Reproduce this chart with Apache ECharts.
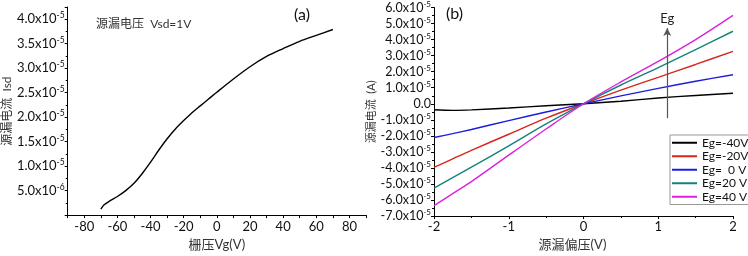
<!DOCTYPE html>
<html>
<head>
<meta charset="utf-8">
<script src="https://cdn.jsdelivr.net/npm/echarts@6/dist/echarts.min.js"></script>
<style>
  html, body { margin: 0; padding: 0; background: #fff; }
  #main { width: 748px; height: 256px; }
</style>
</head>
<body>
<div id="main"></div>
<script>
// panel (a): transfer curve, current in units of 1e-5 A
var vgA = [-70, -68, -65, -60, -55, -50, -45, -40, -35, -30, -25, -20, -15, -10, -5, 0, 10, 20, 30, 40, 50, 60, 70];
var isdA = [0.124, 0.21, 0.28, 0.38, 0.5, 0.65, 0.85, 1.08, 1.33, 1.56, 1.76, 1.93, 2.09, 2.23, 2.37, 2.51, 2.78, 3.03, 3.24, 3.40, 3.55, 3.67, 3.79];

// panel (b): output curves, current in units of 1e-5 A
var vsdB = [-2, -1.75, -1.5, -1, -0.5, 0, 0.5, 1, 1.5, 2];
var egNames = ['Eg=-40V', 'Eg=-20V', 'Eg=  0 V', 'Eg=20 V', 'Eg=40 V'];
var egColors = ['#000000', '#d8261c', '#1c1cdc', '#15827c', '#dc20dc'];
var egM40 = [-0.37, -0.41, -0.38, -0.26, -0.12, 0, 0.16, 0.36, 0.52, 0.66];
var egM20 = [-3.97, -3.43, -2.90, -1.90, -0.90, 0, 0.85, 1.65, 2.45, 3.27];
var eg0   = [-2.10, -1.86, -1.60, -1.05, -0.51, 0, 0.49, 0.96, 1.40, 1.81];
var eg20  = [-5.25, -4.60, -3.95, -2.62, -1.25, 0, 1.17, 2.25, 3.38, 4.52];
var eg40  = [-6.35, -5.60, -4.85, -3.20, -1.57, 0, 1.36, 2.64, 4.00, 5.51];
var egCurves = [egM40, egM20, eg0, eg20, eg40];

// Eg arrow (annotation)
var arrowX = 1.12, arrowFrom = -0.9, arrowTo = 4.72;

var font = 'Lato, "Noto Sans CJK SC", sans-serif';

function pairs(xs, ys) {
    return xs.map(function (x, i) { return [x, ys[i]]; });
}

var supRich = {
    m: { fontSize: 13, fontFamily: font, color: '#111' },
    s: { fontSize: 8.5, fontFamily: font, color: '#111', padding: [0, 0, 7, 0] }
};
var supRichB = {
    m: { fontSize: 12.5, fontFamily: font, color: '#111' },
    s: { fontSize: 8, fontFamily: font, color: '#111', padding: [0, 0, 7, 0] }
};

var chart = echarts.init(document.getElementById('main'), null, { renderer: 'canvas' });

var axisLine = { show: true, onZero: false, lineStyle: { color: '#000', width: 1 } };

var seriesB = egCurves.map(function (c, i) {
    return {
        name: egNames[i],
        type: 'line',
        xAxisIndex: 1,
        yAxisIndex: 1,
        data: pairs(vsdB, c),
        smooth: 0.3,
        symbol: 'none',
        lineStyle: { color: egColors[i], width: 1.4 },
        itemStyle: { color: egColors[i] },
        z: 3
    };
});

seriesB[4].markLine = {
    silent: true,
    symbol: ['none', 'arrow'],
    symbolSize: [6, 8],
    lineStyle: { color: '#555', width: 1.2, type: 'solid' },
    label: { show: true, position: 'end', formatter: 'Eg', color: '#222', fontSize: 13, fontFamily: font, distance: 3 },
    data: [[{ coord: [arrowX, arrowFrom] }, { coord: [arrowX, arrowTo] }]]
};

var option = {
    animation: false,
    backgroundColor: '#fff',
    grid: [
        { left: 64, top: 7, width: 302, height: 219 },
        { left: 434, top: 7, width: 299, height: 219 }
    ],
    xAxis: [
        {
            gridIndex: 0, type: 'value', min: -90, max: 90, interval: 10,
            axisLine: axisLine,
            axisTick: { show: true, length: 3 },
            splitLine: { show: false },
            axisLabel: {
                margin: 5, color: '#111', fontSize: 13, fontFamily: font,
                formatter: function (v) { return (v % 20 === 0) ? String(v) : ''; }
            },
            name: '栅压Vg(V)', nameLocation: 'middle', nameGap: 18,
            nameTextStyle: { color: '#333', fontSize: 13, fontFamily: font }
        },
        {
            gridIndex: 1, type: 'value', min: -2, max: 2, interval: 1,
            axisLine: axisLine,
            axisTick: { show: true, length: 3 },
            minorTick: { show: true, splitNumber: 2, length: 2 },
            splitLine: { show: false },
            axisLabel: { margin: 4, color: '#111', fontSize: 13, fontFamily: font },
            name: '源漏偏压(V)', nameLocation: 'middle', nameGap: 16,
            nameTextStyle: { color: '#333', fontSize: 13, fontFamily: font, padding: [0, 22, 0, 0] }
        }
    ],
    yAxis: [
        {
            gridIndex: 0, type: 'value', min: 0, max: 4.25, interval: 0.5,
            axisLine: axisLine,
            axisTick: { show: true, length: 3 },
            minorTick: { show: true, splitNumber: 2, length: 2 },
            splitLine: { show: false },
            axisLabel: {
                margin: 3, rich: supRich,
                formatter: function (v) {
                    if (v < 0.01 || v > 4.01) return '';
                    if (Math.abs(v - 0.5) < 1e-6) return '{m|5.0x10}{s|-6}';
                    return '{m|' + v.toFixed(1) + 'x10}{s|-5}';
                }
            },
            name: '源漏电流  Isd', nameLocation: 'middle', nameGap: 51,
            nameTextStyle: { color: '#333', fontSize: 12, fontFamily: font }
        },
        {
            gridIndex: 1, type: 'value', min: -7, max: 6, interval: 1,
            axisLine: axisLine,
            axisTick: { show: true, length: 3 },
            minorTick: { show: true, splitNumber: 2, length: 2 },
            splitLine: { show: false },
            axisLabel: {
                margin: 3, rich: supRichB,
                formatter: function (v) {
                    if (Math.abs(v) < 1e-6) return '{m|0.0}';
                    return '{m|' + v.toFixed(1) + 'x10}{s|-5}';
                }
            },
            name: '源漏电流  (A)', nameLocation: 'middle', nameGap: 50,
            nameTextStyle: { color: '#333', fontSize: 11, fontFamily: font }
        }
    ],
    legend: {
        show: true,
        data: egNames,
        orient: 'vertical',
        left: 670, top: 135,
        padding: [1, 2, 1, 2],
        icon: 'rect',
        itemWidth: 25, itemHeight: 2, itemGap: 0,
        borderColor: '#999', borderWidth: 1,
        backgroundColor: '#fff',
        textStyle: { color: '#111', fontSize: 12, fontFamily: font, lineHeight: 13.5 }
    },
    graphic: [
        { type: 'text', left: 294, top: 7, style: { text: '(a)', fontSize: 16, fontFamily: font, fill: '#111' } },
        { type: 'text', left: 96, top: 18, style: { text: '源漏电压  Vsd=1V', fontSize: 12, fontFamily: font, fill: '#333' } },
        { type: 'text', left: 446, top: 6, style: { text: '(b)', fontSize: 16, fontFamily: font, fill: '#111' } }
    ],
    series: [
        {
            name: 'Isd',
            type: 'line',
            xAxisIndex: 0,
            yAxisIndex: 0,
            data: pairs(vgA, isdA),
            smooth: 0.3,
            symbol: 'none',
            lineStyle: { color: '#000', width: 1.4 }
        }
    ].concat(seriesB)
};

chart.setOption(option);
</script>
</body>
</html>
